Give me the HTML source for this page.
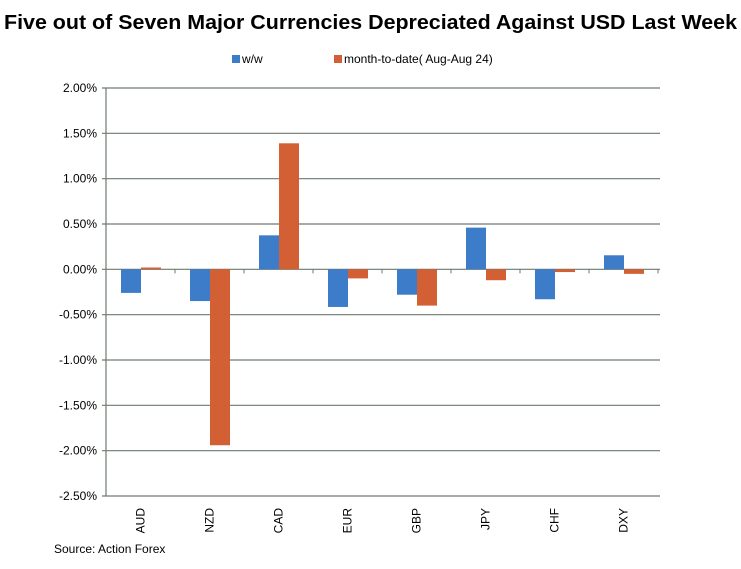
<!DOCTYPE html>
<html><head><meta charset="utf-8"><style>
body{margin:0;background:#fff;font-family:"Liberation Sans",Arial,sans-serif}
svg text{font-family:"Liberation Sans",Arial,sans-serif}
</style></head><body>
<svg id="c" width="741" height="564" xmlns="http://www.w3.org/2000/svg">
<text x="4" y="29" textLength="733" lengthAdjust="spacingAndGlyphs" font-size="20" font-weight="bold" fill="#000">Five out of Seven Major Currencies Depreciated Against USD Last Week</text>
<g>
<rect x="232" y="55" width="8" height="8" fill="#3d7cc9"/>
<text x="242" y="63" font-size="12">w/w</text>
<rect x="334" y="55" width="8" height="8" fill="#d35f34"/>
<text x="344" y="63" font-size="12">month-to-date( Aug-Aug 24)</text>
</g>
<g id="grid"></g><g id="bars"></g><g id="axes"></g>
<text x="54" y="553" font-size="12">Source: Action Forex</text>
</svg>
<script>
const categories=["AUD","NZD","CAD","EUR","GBP","JPY","CHF","DXY"];
const wwValues=[-0.26,-0.35,0.375,-0.415,-0.28,0.46,-0.33,0.155];
const mtdValues=[0.02,-1.94,1.39,-0.10,-0.40,-0.12,-0.03,-0.05];
const yTicks=[2.0,1.5,1.0,0.5,0,-0.5,-1.0,-1.5,-2.0,-2.5];
const NS="http://www.w3.org/2000/svg";
const L=106,R=658,T=88,B=496,yMax=2,yMin=-2.5;
const y=v=>T+(yMax-v)/(yMax-yMin)*(B-T);
const cw=(R-L)/categories.length;
const x=i=>L+i*cw;
function mk(tag,attrs,parent){const e=document.createElementNS(NS,tag);for(const k in attrs)e.setAttribute(k,attrs[k]);document.getElementById(parent).appendChild(e);return e;}
yTicks.forEach(t=>{
 const g=mk('line',{x1:L-4,x2:R+2,y1:y(t),y2:y(t),stroke:'#6f7a6f','stroke-width':1.2},'grid');
 
 
 const tx=mk('text',{x:L-9,y:y(t)+4,'text-anchor':'end','font-size':12},'axes');
 tx.textContent=t.toFixed(2)+'%';
 
 
});
categories.forEach((c,i)=>{
 const v1=wwValues[i],v2=mtdValues[i];
 const b1=mk('rect',{x:x(i)+15,y:Math.min(y(v1),y(0)),width:20,height:Math.abs(y(v1)-y(0)),fill:'#3d7cc9'},'bars');
 
 
 const b2=mk('rect',{x:x(i)+35,y:Math.min(y(v2),y(0)),width:20,height:Math.abs(y(v2)-y(0)),fill:'#d35f34'},'bars');
 
 
 const tk=mk('line',{x1:x(i+1),x2:x(i+1),y1:y(0),y2:y(0)+4,stroke:'#6f7a6f'},'axes');
 
 
 const cx=x(i)+cw/2+4,cy=508;
 const lb=mk('text',{x:cx,y:cy,'text-anchor':'end','font-size':12,transform:`rotate(-90 ${cx} ${cy})`},'axes');
 lb.textContent=c;
 
 
});
const ax=mk('line',{x1:L,x2:L,y1:T,y2:B,stroke:'#6f7a6f','stroke-width':1.2},'axes');


</script>
</body></html>
